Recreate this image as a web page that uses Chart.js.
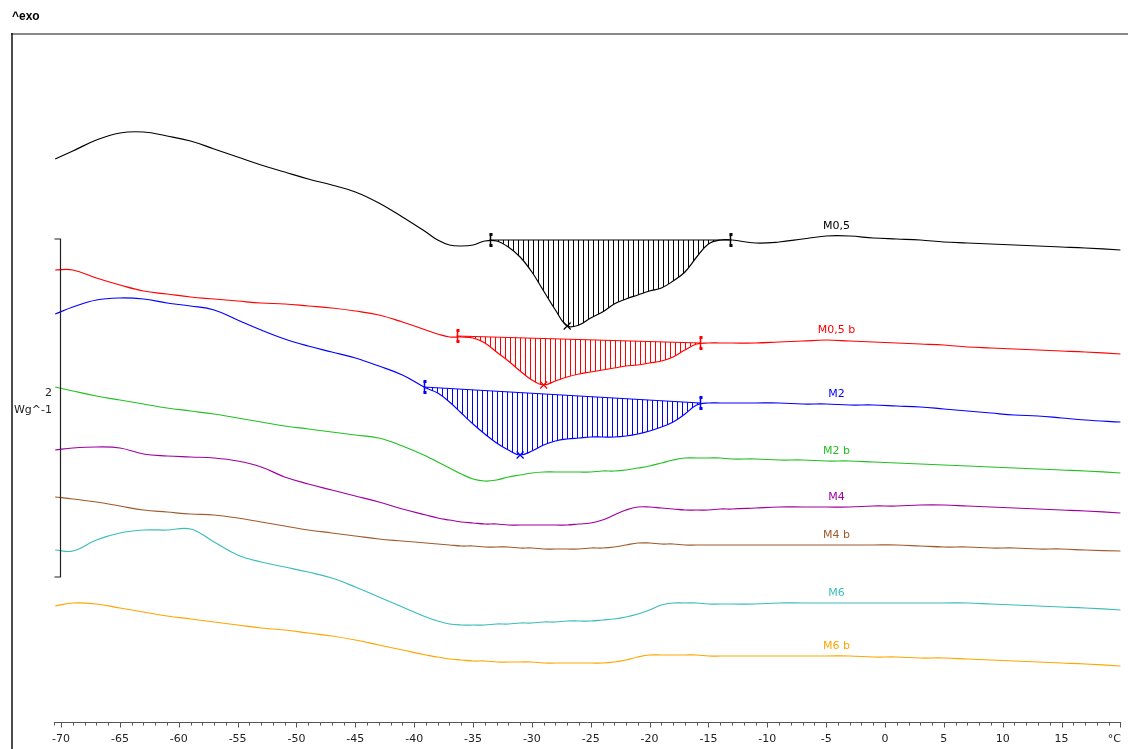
<!DOCTYPE html>
<html>
<head>
<meta charset="utf-8">
<script src="https://cdn.jsdelivr.net/npm/chart.js@4.4.1/dist/chart.umd.min.js"></script>
<style>
  html, body { margin: 0; padding: 0; background: #fff; }
</style>
</head>
<body>
<canvas id="dsc" width="1128" height="749"></canvas>
<script>
// temperature grid (°C)
const temps = [-70.5, -69, -67, -65, -63, -61, -59, -57, -55, -53, -51, -49, -47, -45, -43, -41, -39,
  -38, -37, -36, -35, -34, -33, -32, -31, -30, -29, -28, -27, -26, -25, -24, -23, -22, -21, -20,
  -19, -18, -17, -16, -15, -14, -13, -11, -9, -7, -5, -3, -1, 1, 3, 5, 7, 9, 11, 13, 15, 17, 20];

// heat flow, offset curves (arbitrary units, exo up)
const m05  = [563,571,582,589,590,586,581,573,565,557, 550,543,537,530,519,505,490,482,477,476, 477,481,481,475,465,450,431,412,396,397, 404,410,418,423,427,431,434,441,450,465, 478,482,482,479,480,483,486,486,484,483, 482,480,479,478,477,476,475,474,472];
const m05b = [452,452,444,437,431,428,425,423,421,419, 418,416,414,411,407,400,392,388,385,385, 384,379,370,361,351,342,337,341,345,348, 350,352,354,356,357,359,361,365,372,378, 379,379,379,379,380,381,382,381,380,379, 378,377,375,374,373,372,371,370,368];
const m2   = [408,415,422,424,423,419,416,412,402,392, 383,376,370,364,356,347,334,329,320,309, 298,288,279,272,267,271,277,281,283,284, 285,285,285,286,288,291,295,300,308,317, 319,319,319,319,319,318,318,317,317,316, 315,313,311,309,307,306,304,302,300];
const m2b  = [335,331,326,322,318,314,311,308,304,300, 296,293,290,287,284,276,266,260,254,248, 243,241,242,245,247,249,250,250,250,250, 250,251,251,252,254,256,259,262,264,264, 264,264,263,263,262,262,261,261,260,259, 258,257,256,255,254,253,252,251,249];
const m4   = [272,274,275,274,268,266,265,264,261,255, 245,238,232,226,220,213,207,204,202,200, 199,198,198,197,197,197,197,197,197,198, 199,202,207,212,215,215,214,213,212,212, 212,213,213,214,215,215,215,215,216,216, 217,217,216,215,214,213,212,211,209];
const m4b  = [225,223,220,216,212,210,208,207,204,200, 196,192,189,186,183,181,179,178,177,176, 176,175,175,175,174,174,173,173,173,173, 174,174,175,177,179,179,178,178,177,177, 177,177,177,177,177,177,177,177,177,177, 176,175,175,174,174,173,173,172,171];
const m6   = [172,171,182,189,192,192,193,180,167,160, 155,150,144,135,125,115,105,101,98,97, 97,97,98,98,99,99,100,100,101,101, 101,102,103,105,108,112,117,119,119,119, 118,118,118,118,119,119,119,119,119,119, 119,119,119,118,117,116,115,114,112];
const m6b  = [116,119,118,114,110,106,103,100,97,94, 92,89,86,82,77,72,67,65,63,62, 61,61,60,60,60,60,59,59,59,59, 59,59,60,62,65,67,67,67,67,67, 66,66,66,66,66,66,66,66,65,65, 64,64,63,62,61,60,59,58,56];

const names  = ['M0,5', 'M0,5 b', 'M2', 'M2 b', 'M4', 'M4 b', 'M6', 'M6 b'];
const colors = ['#000000', '#ff0000', '#0000ff', '#22c022', '#a000a0', '#a05a2c', '#3cbcbc', '#ffa500'];
const series = [m05, m05b, m2, m2b, m4, m4b, m6, m6b];

// integrated peaks (first three curves)
const peakStart = [-33.6, -36.4, -39.2];
const peakEnd   = [-13.2, -15.7, -15.7];
const baseStart = [482, 386, 335];
const baseEnd   = [482, 379, 319];

const majorTicks = [-70, -65, -60, -55, -50, -45, -40, -35, -30, -25, -20, -15, -10, -5, 0, 5, 10, 15];
const labelTemp = -4.3;
// 2 W/g scale bar
const barBottom = 145, barLength = 338;

function tracePath(ctx, pts) {
  ctx.moveTo(pts[0].x, pts[0].y);
  for (let j = 1; j < pts.length; j++) {
    const a = pts[j - 1], b = pts[j];
    if (a.cp2x !== undefined) ctx.bezierCurveTo(a.cp2x, a.cp2y, b.cp1x, b.cp1y, b.x, b.y);
    else ctx.lineTo(b.x, b.y);
  }
}

function valueAt(arr, t) {
  for (let j = 0; j < temps.length - 1; j++) {
    if (t >= temps[j] && t <= temps[j + 1]) {
      const f = (t - temps[j]) / (temps[j + 1] - temps[j]);
      return arr[j] + f * (arr[j + 1] - arr[j]);
    }
  }
  return arr[arr.length - 1];
}

const decor = {
  id: 'decor',
  beforeDatasetsDraw(chart) {
    const ctx = chart.ctx, xs = chart.scales.x, ys = chart.scales.y, area = chart.chartArea;
    peakStart.forEach((t0, i) => {
      const pts = chart.getDatasetMeta(i).data;
      const x0 = xs.getPixelForValue(t0), x1 = xs.getPixelForValue(peakEnd[i]);
      const y0 = ys.getPixelForValue(baseStart[i]), y1 = ys.getPixelForValue(baseEnd[i]);
      ctx.save();
      ctx.beginPath();
      ctx.moveTo(x0, y0); ctx.lineTo(x1, y1);
      ctx.lineTo(x1, area.bottom); ctx.lineTo(x0, area.bottom);
      ctx.closePath();
      ctx.clip();
      ctx.beginPath();
      tracePath(ctx, pts);
      ctx.lineTo(pts[pts.length - 1].x, area.top);
      ctx.lineTo(pts[0].x, area.top);
      ctx.closePath();
      ctx.clip();
      ctx.strokeStyle = colors[i];
      ctx.lineWidth = 1;
      ctx.beginPath();
      for (let px = Math.round(x0) + 3.5; px < x1; px += 5) {
        ctx.moveTo(px, area.top); ctx.lineTo(px, area.bottom);
      }
      ctx.stroke();
      ctx.restore();

      // baseline
      ctx.save();
      ctx.strokeStyle = colors[i];
      ctx.lineWidth = 1.2;
      ctx.beginPath();
      ctx.moveTo(x0, y0); ctx.lineTo(x1, y1);
      ctx.stroke();
      ctx.restore();
    });
  },
  afterDatasetsDraw(chart) {
    const ctx = chart.ctx, xs = chart.scales.x, ys = chart.scales.y;

    // limit markers and peak crosses
    peakStart.forEach((t0, i) => {
      const ends = [[t0, baseStart[i]], [peakEnd[i], baseEnd[i]]];
      ctx.save();
      ctx.strokeStyle = colors[i];
      ctx.fillStyle = colors[i];
      ctx.lineWidth = 1.5;
      ends.forEach(([t, v]) => {
        const px = Math.round(xs.getPixelForValue(t)) + 0.5, py = ys.getPixelForValue(v);
        ctx.beginPath();
        ctx.moveTo(px, py - 6); ctx.lineTo(px, py + 6);
        ctx.stroke();
        ctx.fillRect(px - 1, py - 7, 3, 3);
        ctx.fillRect(px - 1, py + 4, 3, 3);
      });
      let jm = -1;
      series[i].forEach((v, j) => {
        if (temps[j] > t0 && temps[j] < peakEnd[i] && (jm < 0 || v < series[i][jm])) jm = j;
      });
      const cx = xs.getPixelForValue(temps[jm]), cy = ys.getPixelForValue(series[i][jm]);
      ctx.lineWidth = 1.2;
      ctx.beginPath();
      ctx.moveTo(cx - 3.5, cy - 3.5); ctx.lineTo(cx + 3.5, cy + 3.5);
      ctx.moveTo(cx + 3.5, cy - 3.5); ctx.lineTo(cx - 3.5, cy + 3.5);
      ctx.stroke();
      ctx.restore();
    });

    // curve names
    ctx.save();
    ctx.font = '11px "DejaVu Sans"';
    ctx.textAlign = 'center';
    ctx.textBaseline = 'middle';
    series.forEach((s, i) => {
      const px = xs.getPixelForValue(labelTemp) + 2;
      const py = ys.getPixelForValue(valueAt(s, labelTemp)) - 10;
      ctx.fillStyle = colors[i];
      ctx.fillText(names[i], px, py);
    });
    ctx.restore();
  },
  afterDraw(chart) {
    const ctx = chart.ctx, xs = chart.scales.x, ys = chart.scales.y, area = chart.chartArea;
    ctx.save();
    // frame
    ctx.strokeStyle = '#8a8a8a';
    ctx.lineWidth = 2;
    ctx.beginPath();
    ctx.moveTo(11, 34); ctx.lineTo(chart.width, 34);
    ctx.stroke();
    ctx.strokeStyle = '#111';
    ctx.lineWidth = 1.5;
    ctx.beginPath();
    ctx.moveTo(12, 33); ctx.lineTo(12, chart.height);
    ctx.stroke();

    ctx.fillStyle = '#000';
    ctx.font = 'bold 12px "Liberation Sans"';
    ctx.textBaseline = 'middle';
    ctx.fillText('^exo', 12, 17);

    // x axis
    const ay = area.bottom + 0.5;
    ctx.strokeStyle = '#555';
    ctx.lineWidth = 1;
    ctx.beginPath();
    ctx.moveTo(area.left, ay); ctx.lineTo(area.right, ay);
    for (let t = -70; t <= 20; t++) {
      const px = Math.round(xs.getPixelForValue(t)) + 0.5;
      ctx.moveTo(px, ay); ctx.lineTo(px, ay + (t % 5 === 0 ? 5 : 3));
    }
    ctx.moveTo(area.left + 0.5, ay); ctx.lineTo(area.left + 0.5, ay + 3);
    ctx.stroke();

    ctx.fillStyle = '#222';
    ctx.font = '11px "DejaVu Sans"';
    ctx.textAlign = 'center';
    majorTicks.forEach(t => ctx.fillText(String(t), xs.getPixelForValue(t), ay + 17));
    ctx.textAlign = 'right';
    ctx.fillText('°C', area.right, ay + 17);

    // scale bar
    const bx = 60.5, bt = ys.getPixelForValue(barBottom + barLength), bb = ys.getPixelForValue(barBottom);
    ctx.strokeStyle = '#222';
    ctx.lineWidth = 1.2;
    ctx.beginPath();
    ctx.moveTo(bx - 6, bt); ctx.lineTo(bx, bt); ctx.lineTo(bx, bb); ctx.lineTo(bx - 6, bb);
    ctx.stroke();
    ctx.fillStyle = '#222';
    ctx.textAlign = 'right';
    ctx.fillText('2', 52, (bt + bb) / 2 - 15);
    ctx.fillText('Wg^-1', 52, (bt + bb) / 2 + 2);
    ctx.restore();
  }
};

new Chart(document.getElementById('dsc').getContext('2d'), {
  type: 'line',
  data: {
    datasets: series.map((s, i) => ({
      label: names[i],
      data: s.map((v, j) => ({ x: temps[j], y: v })),
      borderColor: colors[i],
      borderWidth: 1.2,
      pointRadius: 0,
      tension: 0.4,
      fill: false
    }))
  },
  options: {
    responsive: false,
    animation: false,
    devicePixelRatio: 1,
    layout: { padding: { left: 54, right: 7, top: 35, bottom: 27 } },
    plugins: { legend: { display: false }, tooltip: { enabled: false } },
    scales: {
      x: { type: 'linear', min: -70.6, max: 20.05, display: false },
      y: { min: 0, max: 687, display: false }
    }
  },
  plugins: [decor]
});
</script>
</body>
</html>
